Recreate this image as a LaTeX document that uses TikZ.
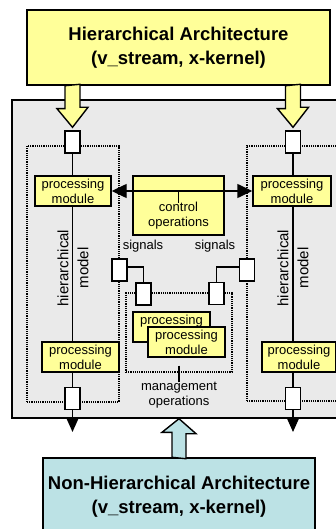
\documentclass[tikz,border=0pt]{standalone}
\usepackage{fontspec}
\setmainfont{Liberation Sans}
\usetikzlibrary{calc,arrows.meta}

\definecolor{boxyellow}{HTML}{FFFF99}
\definecolor{boxteal}{HTML}{BCE2E5}
\definecolor{sysgray}{HTML}{EAEAEA}

\tikzset{
  module/.style={draw, fill=boxyellow, line width=1.4pt, minimum width=76pt, minimum height=30pt,
    inner sep=0pt, align=center, font=\fontsize{13}{15}\selectfont},
  port/.style={draw, fill=white, line width=1.4pt, minimum width=15pt, minimum height=22pt, inner sep=0pt},
  group/.style={draw, densely dotted, line width=1.2pt, inner sep=0pt},
  wire/.style={line width=1.4pt},
  tip/.style={-{Triangle[length=15pt,width=13pt]}},
  fatarrow/.style={draw, line width=1.4pt, line join=miter},
  lbl/.style={font=\fontsize{13}{15}\selectfont, align=center, inner sep=0pt},
  arch/.style={draw, line width=1.4pt, align=center, inner sep=0pt,
    font=\fontsize{18.5}{24}\selectfont\bfseries},
}

\begin{document}
\begin{tikzpicture}[x=1pt,y=-1pt]
  \useasboundingbox (0,0) rectangle (336,529);

  % system frame and the dotted groups
  \node[draw, fill=sysgray, line width=1.4pt, minimum width=333pt, minimum height=318pt] (sys) at (178.5,259) {};
  \node[group, minimum width=92pt, minimum height=256pt] (grpL) at (73,274) {};
  \node[group, minimum width=103pt, minimum height=255pt] (grpR) at (298.5,273.5) {};
  \node[group, minimum width=106pt, minimum height=79pt] (mgmt) at (179,332.5) {};

  % architectures
  \node[arch, fill=boxyellow, minimum width=303pt, minimum height=75pt] (hier) at (178.5,47.5)
    {Hierarchical Architecture\\(v\_stream, x-kernel)};
  \node[arch, fill=boxteal, minimum width=272pt, minimum height=77pt] (nonh) at (179,496.5)
    {Non-Hierarchical Architecture\\(v\_stream, x-kernel)};

  % ports
  \node[port] (inL) at (72.5,142) {};
  \node[port] (inR) at (293,142) {};
  \node[port] (outL) at (72.5,398.5) {};
  \node[port] (outR) at (293,398.5) {};
  \node[port] (sigL1) at (119.5,270) {};
  \node[port] (sigL2) at (143.5,294) {};
  \node[port] (sigR1) at (247,270) {};
  \node[port] (sigR2) at (216.5,293.5) {};

  % processing modules
  \node[module] (pmTL) at (73,191) {processing\\module};
  \node[module, minimum width=78pt] (pmTR) at (292,191) {processing\\module};
  \node[module, minimum width=77pt] (pmBL) at (80.5,357) {processing\\module};
  \node[module, minimum width=74pt] (pmBR) at (299,357) {processing\\module};
  \node[module, minimum width=77pt] (pmMb) at (171.5,327) {processing\\\phantom{module}};
  \node[module, minimum width=77pt] (pmMf) at (186.5,342) {processing\\module};

  \node[module, minimum width=91pt, minimum height=59pt] (ctrl) at (178.5,205.5) {};
  \node[lbl] (ctrltxt) at (178.5,215.5) {control\\operations};

  \node[lbl] (sigtxtL) at (143,246) {signals};
  \node[lbl] (sigtxtR) at (215,246) {signals};
  \node[lbl] (mgtxt) at (179,395.5) {management\\operations};
  \node[lbl, rotate=90, font=\fontsize{15}{20}\selectfont] (hmL) at (73,268) {hierarchical\\model};
  \node[lbl, rotate=90, font=\fontsize{15}{20}\selectfont] (hmR) at (293,268) {hierarchical\\model};

  \coordinate (endL) at (72.5,432);
  \coordinate (endR) at (293,432);

  % hierarchical chains
  \draw[wire] (inL.south) -- (inL |- pmTL.north);
  \draw[wire] (inL |- pmTL.south) -- (inL |- pmBL.north);
  \draw[wire] (inL |- pmBL.south) -- (outL.north);
  \draw[wire, tip] (outL.south) -- (endL);
  \draw[wire] (inR.south) -- (inR |- pmTR.north);
  \draw[wire] (inR |- pmTR.south) -- (inR |- pmBR.north);
  \draw[wire] (inR |- pmBR.south) -- (outR.north);
  \draw[wire, tip] (outR.south) -- (endR);

  % control and signal lines
  \draw[wire, {Triangle[length=15pt,width=14pt]}-{Triangle[length=15pt,width=14pt]}] (pmTL.east) -- (pmTR.west);
  \draw[wire] (pmTL.east -| ctrl) -- ++(0,12);
  \draw[wire] ([yshift=3pt]sigL1.east) -| (sigL2.north);
  \draw[wire] ([yshift=3pt]sigR1.west) -| (sigR2.north);
  \draw[wire] ([yshift=7pt]mgmt.south) -- (mgtxt.north);

  % fat arrows
  \draw[fatarrow, fill=boxyellow] ($(hier.south -| inL)+(-7.5,0)$) -- ++(0,23) -- ++(-8,0)
    -- ($(inL.north)+(0,-3)$) -- ++(15.5,-20) -- ++(-8,0) -- ++(0,-23) -- cycle;
  \draw[fatarrow, fill=boxyellow] ($(hier.south -| inR)+(-7.5,0)$) -- ++(0,23) -- ++(-8,0)
    -- ($(inR.north)+(0,-3)$) -- ++(15.5,-20) -- ++(-8,0) -- ++(0,-23) -- cycle;
  \draw[fatarrow, fill=boxteal] ($(nonh.north)+(-7,0)$) -- ++(0,-25) -- ++(-10,0)
    -- (sys.south -| nonh) -- ++(17,15) -- ++(-10,0) -- ++(0,25) -- cycle;
\end{tikzpicture}
\end{document}
